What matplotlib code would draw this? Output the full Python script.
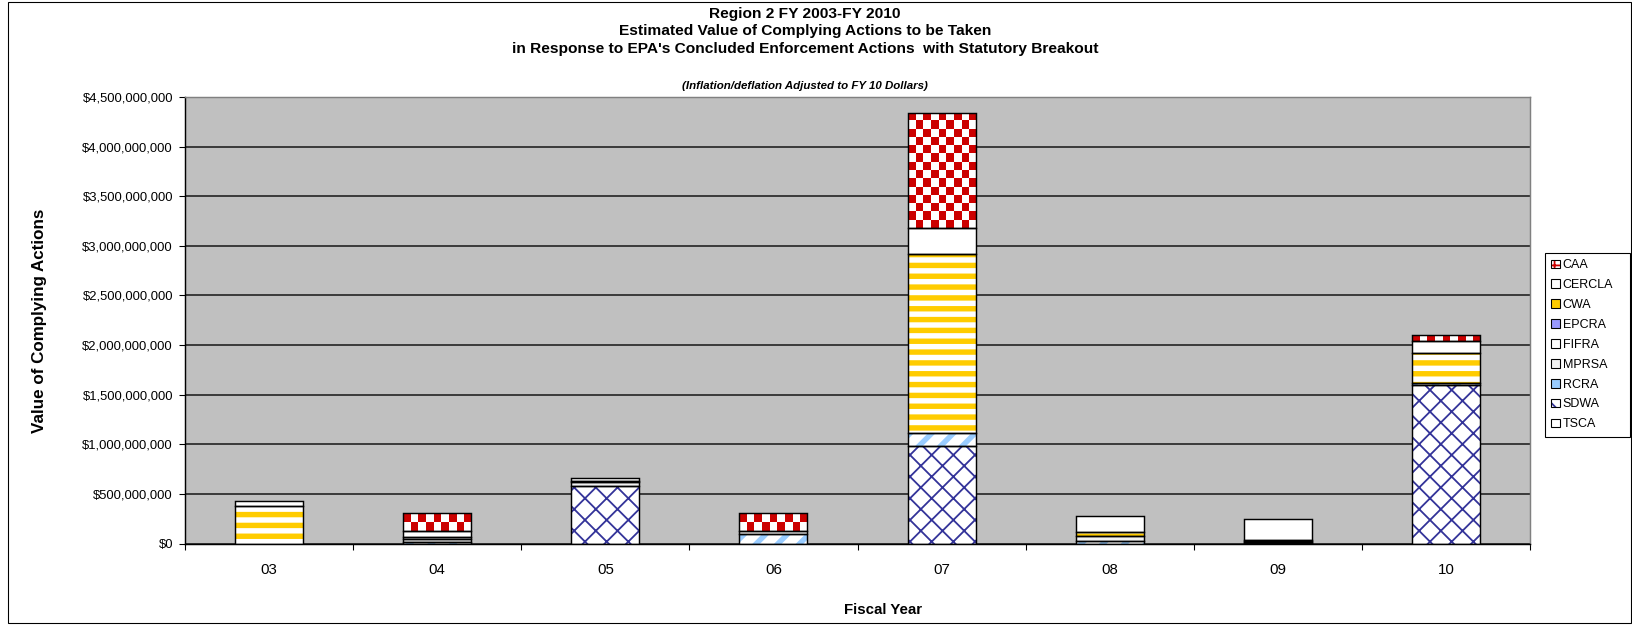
"""Region 2 FY2003-FY2010 complying actions, stacked by statute."""
import numpy as np
import matplotlib
matplotlib.use("Agg")
import matplotlib.pyplot as plt  # noqa: E402
from matplotlib.colors import ListedColormap  # noqa: E402
from matplotlib.patches import Patch, Rectangle  # noqa: E402
from matplotlib.ticker import FuncFormatter  # noqa: E402

DPI = 130
W, H = 1632, 626

years = ["03", "04", "05", "06", "07", "08", "09", "10"]

# values in $ billions (stack order bottom -> top)
tsca = [0, 0, 0, 0, 0, 0, 0, 0]
sdwa = [0, 0, 0.584, 0, 0.98, 0, 0.01, 1.60]
rcra = [0, 0.02, 0, 0.10, 0.135, 0.03, 0.01, 0.015]
mprsa = [0, 0.03, 0.035, 0, 0, 0.05, 0.01, 0]
fifra = [0, 0.02, 0, 0, 0, 0, 0, 0]
epcra = [0, 0, 0, 0, 0, 0, 0, 0]
cwa = [0.38, 0, 0.015, 0, 1.80, 0.04, 0.01, 0.31]
cercla = [0.05, 0.055, 0.024, 0.03, 0.26, 0.16, 0.21, 0.12]
caa = [0, 0.18, 0, 0.175, 1.16, 0, 0, 0.055]

stack = [("TSCA", tsca), ("SDWA", sdwa), ("RCRA", rcra), ("MPRSA", mprsa),
         ("FIFRA", fifra), ("EPCRA", epcra), ("CWA", cwa),
         ("CERCLA", cercla), ("CAA", caa)]

# face, hatch, hatch colour, hatch linewidth
STYLE = {
    "TSCA": ("white", None, "black", 1.0),
    "SDWA": ("white", "xx", "#333399", 1.0),
    "RCRA": ("white", "//", "#99CCFF", 3.0),
    "MPRSA": ("#F2F2F2", None, "black", 1.0),
    "FIFRA": ("white", None, "black", 1.0),
    "EPCRA": ("#9999FF", None, "black", 1.0),
    "CWA": ("white", "--", "#FFCC00", 3.0),
    "CERCLA": ("white", None, "black", 1.0),
    "CAA": ("white", None, "black", 1.0),
}
# tiny legend squares can't show the stripes, so give them the stripe colour
LEGEND_FACE = {"CWA": "#FFCC00", "RCRA": "#99CCFF"}
CHECKER = ListedColormap(["white", "#CC0000"])

plt.rcParams["font.family"] = ["Liberation Sans", "DejaVu Sans"]


def pt(px):
    return px * 72 / DPI


def hatch_lw(artist, lw):
    if hasattr(artist, "set_hatch_linewidth"):
        artist.set_hatch_linewidth(lw)
    orig = artist.draw

    def draw(renderer):
        with plt.rc_context({"hatch.linewidth": lw}):
            orig(renderer)
    artist.draw = draw


def checker_fill(ax, patch, cell=8):
    x0, y0 = patch.get_x(), patch.get_y()
    x1, y1 = x0 + patch.get_width(), y0 + patch.get_height()
    (p0x, p0y), (p1x, p1y) = ax.transData.transform([(x0, y0), (x1, y1)])
    nx = max(1, round((p1x - p0x) / cell))
    ny = max(1, round((p1y - p0y) / cell))
    grid = (np.indices((ny, nx)).sum(axis=0) + 1) % 2
    im = ax.imshow(grid, cmap=CHECKER, vmin=0, vmax=1, extent=(x0, x1, y0, y1),
                   aspect="auto", interpolation="nearest", origin="upper", zorder=2.5)
    im.set_clip_path(patch)


fig = plt.figure(figsize=(W / DPI, H / DPI), dpi=DPI)
ax = fig.add_axes([185 / W, (H - 543.6) / H, 1345 / W, (543.6 - 97) / H])
ax.set_facecolor("#C0C0C0")
ax.set_xlim(-0.5, len(years) - 0.5)
ax.set_ylim(0, 4.5e9)

x = np.arange(len(years))
width = 0.405
bottom = np.zeros(len(years))
for name, vals in stack:
    v = np.array(vals) * 1e9
    face, hatch, hcol, hlw = STYLE[name]
    with plt.rc_context({"hatch.linewidth": hlw}):
        bars = ax.bar(x, v, width, bottom=bottom, color=face, edgecolor=hcol,
                      hatch=hatch, linewidth=0, zorder=2)
    for b in bars:
        hatch_lw(b, hlw)
    nz = v > 0
    ax.bar(x[nz], v[nz], width, bottom=bottom[nz], fill=False,
           edgecolor="black", linewidth=0.8, zorder=3)
    if name == "CAA":
        for b, val in zip(bars, v):
            if val > 0:
                checker_fill(ax, b)
    bottom += v

ax.set_xlim(-0.5, len(years) - 0.5)
ax.set_ylim(0, 4.5e9)

ax.set_yticks(np.arange(0, 4.5e9 + 1, 5e8))
ax.yaxis.set_major_formatter(FuncFormatter(lambda v, _: f"${v:,.0f}"))
ax.tick_params(axis="y", labelsize=pt(13), length=pt(6), width=0.6, pad=pt(6))
ax.set_xticks(x)
ax.set_xticklabels(years)
ax.set_xticks(np.arange(-0.5, len(years)), minor=True)
ax.tick_params(axis="x", which="major", length=0, labelsize=pt(15), pad=pt(19))
ax.tick_params(axis="x", which="minor", length=pt(6), width=0.6)

ax.grid(axis="y", color="#202020", linewidth=0.9)
ax.set_axisbelow(True)
for side in ("left", "bottom"):
    ax.spines[side].set_color("black")
    ax.spines[side].set_linewidth(0.8)
for side in ("top", "right"):
    ax.spines[side].set_color("#808080")
    ax.spines[side].set_linewidth(0.8)

ax.set_ylabel("Value of Complying Actions", fontsize=pt(17), fontweight="bold")
ax.yaxis.set_label_coords((47 - 185) / 1345, (543.6 - 321) / 446.6)
ax.set_xlabel("Fiscal Year", fontsize=pt(15), fontweight="bold")
ax.xaxis.set_label_coords((883 - 185) / 1345, (543.6 - 603) / 446.6)

title_lines = ["Region 2 FY 2003-FY 2010",
               "Estimated Value of Complying Actions to be Taken",
               "in Response to EPA's Concluded Enforcement Actions  with Statutory Breakout"]
for i, line in enumerate(title_lines):
    fig.text(805 / W, 1 - (14 + 17.5 * i) / H, line, ha="center", va="center",
             fontsize=pt(15.5), fontweight="bold")
fig.text(805 / W, 1 - 86 / H, "(Inflation/deflation Adjusted to FY 10 Dollars)",
         ha="center", va="center", fontsize=pt(11.5), fontweight="bold",
         style="italic")

# legend: top entry first
handles, labels = [], []
for name, _vals in reversed(stack):
    face, hatch, hcol, hlw = STYLE[name]
    if name == "CAA":
        fill = Patch(facecolor="white", edgecolor="#CC0000", hatch="++", linewidth=0)
    elif name in LEGEND_FACE:
        fill = Patch(facecolor=LEGEND_FACE[name], linewidth=0)
    else:
        fill = Patch(facecolor=face, edgecolor=hcol, hatch=hatch, linewidth=0)
    edge = Patch(facecolor="none", edgecolor="black", linewidth=0.6)
    handles.append((fill, edge))
    labels.append(name)
leg = fig.legend(handles, labels, loc="upper left", mode="expand",
                 bbox_to_anchor=(1545 / W, 1 - 440 / H, (1630 - 1545) / W, (440 - 253) / H),
                 bbox_transform=fig.transFigure,
                 frameon=True, fancybox=False, edgecolor="black", framealpha=1,
                 fontsize=pt(12.5), handlelength=0.7, handleheight=0.7,
                 handletextpad=0.2, labelspacing=0.63, borderpad=0.5, borderaxespad=0)
leg.get_frame().set_linewidth(0.6)

fig.patches.append(Rectangle((8 / W, 1 - 623 / H), (1631 - 8) / W, 621 / H,
                             transform=fig.transFigure, fill=False,
                             edgecolor="black", linewidth=0.6))

fig.savefig("out.png", dpi=DPI)
